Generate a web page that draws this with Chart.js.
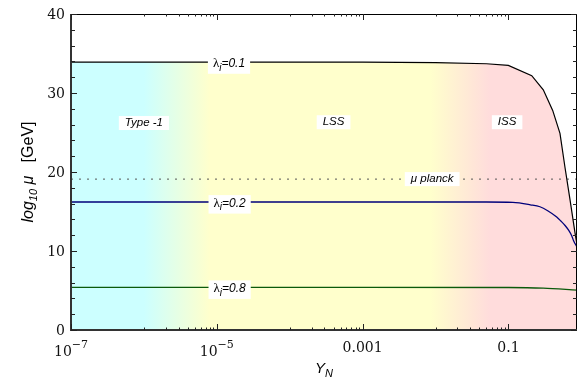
<!DOCTYPE html>
<html>
<head>
<meta charset="utf-8">
<script src="https://cdn.jsdelivr.net/npm/chart.js@4/dist/chart.umd.min.js"></script>
<style>
  body { margin: 0; background: #fff; }
  canvas { display: block; }
</style>
</head>
<body>
<canvas id="muChart" width="577" height="389"></canvas>
<script>
// axis ranges
const xRange = [1e-7, 0.873];
const yRange = [0, 40];
const yTicks = [0, 10, 20, 30, 40];
const yMinorTicks = [2, 4, 6, 8, 12, 14, 16, 18, 22, 24, 26, 28, 32, 34, 36, 38];
const xMajorTicks = [1e-7, 1e-5, 1e-3, 0.1];
const xTickLabels = [['10', '\u22127'], ['10', '\u22125'], ['0.001', ''], ['0.1', '']];

// lambda_i = 0.1 (black, boundary of the shaded region)
const lam01X = [1e-7, 1e-5, 1e-3, 0.01, 0.05, 0.0998, 0.209, 0.301, 0.405, 0.51, 0.597, 0.70, 0.82, 0.873];
const lam01Y = [33.9, 33.9, 33.9, 33.85, 33.7, 33.5, 32.2, 30.4, 27.8, 24.9, 20.6, 16.5, 12.3, 10.8];
// lambda_i = 0.2 (blue)
const lam02X = [1e-7, 1e-3, 0.05, 0.115, 0.2, 0.271, 0.346, 0.46, 0.524, 0.603, 0.673, 0.741, 0.784, 0.873];
const lam02Y = [16.2, 16.2, 16.2, 16.15, 15.85, 15.6, 15.1, 14.3, 13.8, 13.2, 12.6, 11.9, 11.3, 10.5];
// lambda_i = 0.8 (green)
const lam08X = [1e-7, 1e-3, 0.1, 0.3, 0.873];
const lam08Y = [5.4, 5.4, 5.38, 5.3, 5.05];
// Planck scale
const muPlanck = 19.1;

// region labels / curve labels, in data coordinates
const labelText = ['Type -1', 'LSS', 'ISS', '\u03bc planck'];
const labelX = [1e-6, 4e-4, 0.096, 0.009];
const labelY = [26.2, 26.3, 26.3, 19.1];
const lambdaText = ['=0.1', '=0.2', '=0.8'];
const lambdaX = [1.47e-5, 1.5e-5, 1.5e-5];
const lambdaY = [33.7, 16.0, 5.2];

const pts = (xs, ys) => xs.map((x, i) => ({ x: x, y: ys[i] }));

// background colour bands along x
const bandStops = [[1.0e-6, '#ccffff'], [8e-6, '#ffffcc'], [8.5e-3, '#ffffcc'], [5.6e-2, '#ffdcdc']];

function bandGradient(c) {
  const chart = c.chart;
  const a = chart.chartArea;
  if (!a) return 'transparent';
  const xs = chart.scales.x;
  const g = chart.ctx.createLinearGradient(a.left, 0, a.right, 0);
  bandStops.forEach(([v, col]) => {
    let t = (xs.getPixelForValue(v) - a.left) / (a.right - a.left);
    g.addColorStop(Math.min(1, Math.max(0, t)), col);
  });
  return g;
}

function drawRich(ctx, parts, x, y) {
  // parts: [text, font, dy]; x is left, y baseline
  parts.forEach(([t, f, dy]) => {
    ctx.font = f;
    ctx.fillText(t, x, y + dy);
    x += ctx.measureText(t).width;
  });
  return x;
}
function richWidth(ctx, parts) {
  let w = 0;
  parts.forEach(([t, f]) => { ctx.font = f; w += ctx.measureText(t).width; });
  return w;
}

const framePlugin = {
  id: 'frame',
  afterDraw(chart) {
    const ctx = chart.ctx;
    const a = chart.chartArea;
    const xs = chart.scales.x, ys = chart.scales.y;
    ctx.save();

    // frame
    ctx.strokeStyle = '#000';
    ctx.lineWidth = 1;
    ctx.beginPath();
    ctx.moveTo(a.left, a.top + 0.5); ctx.lineTo(a.right, a.top + 0.5);
    ctx.moveTo(a.right - 0.5, a.top); ctx.lineTo(a.right - 0.5, a.bottom);
    ctx.stroke();
    ctx.strokeStyle = '#333';
    ctx.lineWidth = 2;
    ctx.beginPath();
    ctx.moveTo(a.left, a.top); ctx.lineTo(a.left, a.bottom);
    ctx.lineTo(a.right, a.bottom);
    ctx.stroke();

    // y ticks
    ctx.strokeStyle = '#222';
    ctx.lineWidth = 1;
    ctx.beginPath();
    yTicks.forEach(v => {
      const p = Math.round(ys.getPixelForValue(v)) + 0.5;
      ctx.moveTo(a.left, p); ctx.lineTo(a.left + 6, p);
      ctx.moveTo(a.right, p); ctx.lineTo(a.right - 6, p);
    });
    yMinorTicks.forEach(v => {
      const p = Math.round(ys.getPixelForValue(v)) + 0.5;
      ctx.moveTo(a.left, p); ctx.lineTo(a.left + 4, p);
      ctx.moveTo(a.right, p); ctx.lineTo(a.right - 4, p);
    });
    // x ticks
    xMajorTicks.forEach(v => {
      const p = Math.round(xs.getPixelForValue(v)) + 0.5;
      ctx.moveTo(p, a.bottom); ctx.lineTo(p, a.bottom - 6);
      ctx.moveTo(p, a.top); ctx.lineTo(p, a.top + 6);
    });
    [-6, -4, -2].forEach(n => {
      for (let k = 1; k <= 9; k++) {
        const p = Math.round(xs.getPixelForValue(k * Math.pow(10, n))) + 0.5;
        ctx.moveTo(p, a.bottom); ctx.lineTo(p, a.bottom - 2.5);
        ctx.moveTo(p, a.top); ctx.lineTo(p, a.top + 2.5);
      }
    });
    ctx.stroke();

    // tick labels
    ctx.fillStyle = '#111';
    ctx.font = '14px "DejaVu Serif"';
    ctx.textAlign = 'right';
    ctx.textBaseline = 'middle';
    yTicks.forEach(v => ctx.fillText(String(v), a.left - 6, ys.getPixelForValue(v) + 1));
    ctx.textAlign = 'left';
    ctx.textBaseline = 'alphabetic';
    xMajorTicks.forEach((v, i) => {
      const [base, sup] = xTickLabels[i];
      const parts = sup
        ? [[base, '14px "DejaVu Serif"', 0], [sup, '11px "DejaVu Serif"', -8]]
        : [[base, '14px "DejaVu Serif"', 0]];
      const w = richWidth(ctx, parts);
      const px = xs.getPixelForValue(v);
      drawRich(ctx, parts, px - w / 2, sup ? a.bottom + 26 : a.bottom + 22);
    });

    // axis titles
    ctx.fillStyle = '#000';
    const xt = [['Y', 'italic 15px "Liberation Sans"', 0], ['N', 'italic 11px "Liberation Sans"', 4]];
    drawRich(ctx, xt, (a.left + a.right) / 2 - richWidth(ctx, xt) / 2, a.bottom + 43);
    const yt = [['log', 'italic 16px "Liberation Sans"', 0], ['10', 'italic 11px "Liberation Sans"', 4],
                [' \u03bc', 'italic 16px "Liberation Sans"', 0], ['   [GeV]', '16px "Liberation Sans"', 0]];
    ctx.save();
    ctx.translate(33, (a.top + a.bottom) / 2);
    ctx.rotate(-Math.PI / 2);
    drawRich(ctx, yt, -richWidth(ctx, yt) / 2, 0);
    ctx.restore();

    // region labels with white boxes
    ctx.textBaseline = 'middle';
    labelText.forEach((t, i) => {
      const parts = [[t, 'italic 11.5px "Liberation Sans"', 0]];
      const w = richWidth(ctx, parts);
      const cx = xs.getPixelForValue(labelX[i]), cy = ys.getPixelForValue(labelY[i]);
      ctx.fillStyle = '#fff';
      ctx.fillRect(cx - w / 2 - 6, cy - 7, w + 12, 14);
      ctx.fillStyle = '#000';
      drawRich(ctx, parts, cx - w / 2, cy);
    });
    lambdaText.forEach((t, i) => {
      const parts = [['\u03bb', '13px "Liberation Serif"', 0], ['i', 'italic 10px "Liberation Sans"', 4],
                     [t, 'italic 12px "Liberation Sans"', 0]];
      const w = richWidth(ctx, parts);
      const cx = xs.getPixelForValue(lambdaX[i]), cy = ys.getPixelForValue(lambdaY[i]);
      ctx.fillStyle = '#fff';
      ctx.fillRect(cx - w / 2 - 5, cy - 8.5, w + 10, 18.5);
      ctx.fillStyle = '#000';
      drawRich(ctx, parts, cx - w / 2, cy);
    });
    ctx.restore();
  }
};

new Chart(document.getElementById('muChart'), {
  type: 'line',
  data: {
    datasets: [
      { data: pts(lam01X, lam01Y), borderColor: '#000', borderWidth: 1.2, fill: 'origin',
        backgroundColor: bandGradient, pointRadius: 0, tension: 0 },
      { data: pts(lam02X, lam02Y), borderColor: '#00007a', borderWidth: 1.3, fill: false,
        pointRadius: 0, cubicInterpolationMode: 'monotone' },
      { data: pts(lam08X, lam08Y), borderColor: '#0b5a0b', borderWidth: 1.3, fill: false,
        pointRadius: 0, cubicInterpolationMode: 'monotone' },
      { data: pts(xRange, [muPlanck, muPlanck]), borderColor: '#555', borderWidth: 1,
        borderDash: [2, 6], fill: false, pointRadius: 0 }
    ]
  },
  options: {
    responsive: false,
    animation: false,
    layout: { padding: { left: 71, top: 14, right: 0, bottom: 59 } },
    scales: {
      x: { type: 'logarithmic', min: xRange[0], max: xRange[1], display: false },
      y: { type: 'linear', min: yRange[0], max: yRange[1], display: false }
    },
    plugins: {
      legend: { display: false },
      tooltip: { enabled: false },
      filler: { drawTime: 'beforeDatasetsDraw' }
    }
  },
  plugins: [framePlugin]
});
</script>
</body>
</html>
